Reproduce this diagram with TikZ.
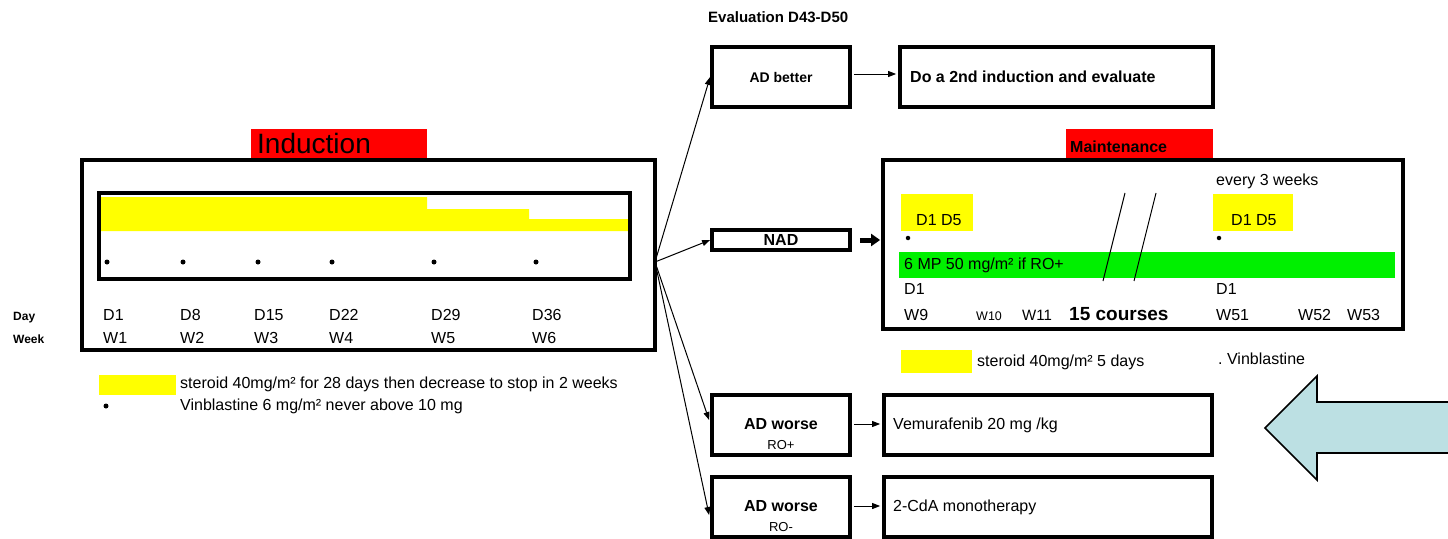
\documentclass[tikz,border=0pt]{standalone}
\usepackage{fontspec}
\setmainfont{Liberation Sans}
\usetikzlibrary{arrows.meta,calc}
\definecolor{hlyellow}{RGB}{255,255,0}
\definecolor{hlgreen}{RGB}{0,240,0}
\definecolor{hlred}{RGB}{255,0,0}
\definecolor{arrowblue}{RGB}{188,224,227}
\tikzset{
 f16/.style={inner sep=0pt, font=\fontsize{16}{19}\selectfont, text height=11.5pt, text depth=0pt},
 f16b/.style={inner sep=0pt, font=\fontsize{16}{19}\selectfont\bfseries, text height=11.5pt, text depth=0pt},
 f15b/.style={inner sep=0pt, font=\fontsize{15}{18}\selectfont\bfseries, text height=10.7pt, text depth=0pt},
 f14b/.style={inner sep=0pt, font=\fontsize{14}{17}\selectfont\bfseries, text height=10pt, text depth=0pt},
 f12/.style={inner sep=0pt, font=\fontsize{12.5}{15}\selectfont, text height=9pt, text depth=0pt},
 f13/.style={inner sep=0pt, font=\fontsize{13}{15}\selectfont, text height=9.3pt, text depth=0pt},
 f12b/.style={inner sep=0pt, font=\fontsize{12}{14}\selectfont\bfseries, text height=8.6pt, text depth=0pt},
 f19b/.style={inner sep=0pt, font=\fontsize{19}{22}\selectfont\bfseries, text height=13.6pt, text depth=0pt},
 f28/.style={inner sep=0pt, font=\fontsize{28}{32}\selectfont, text height=20pt, text depth=0pt},
 box/.style={draw=black, line width=3.8pt, inner sep=0pt, fill=white},
 conn/.style={-{Triangle[length=8pt,width=6pt]}, line width=1pt},
 bigconn/.style={-{Triangle[length=9pt,width=12pt]}, line width=5pt},
 vdot/.style={circle, fill=black, inner sep=0pt, minimum size=5pt},
}
\begin{document}
\begin{tikzpicture}[x=1pt,y=-1pt]
\useasboundingbox (0,0) rectangle (1448,538);

% ---------------- Induction ----------------
\fill[hlred] (251,129) rectangle (427,159);
\node[f28, anchor=west] (indtitle) at (257,143) {Induction};
\node[box, minimum width=573pt, minimum height=190pt] (ind) at (368.5,255) {};
\fill[hlyellow] (101,197) -- (427,197) -- (427,209) -- (529,209) -- (529,219) -- (628,219) -- (628,231) -- (101,231) -- cycle;
\node[draw=black, line width=3.5pt, inner sep=0pt, minimum width=531pt, minimum height=86pt] (indin) at (364.5,236) {};
\foreach \x/\n in {107/a,183/b,258/c,332/d,434/e,536/f}
  \node[vdot] (idot\n) at (\x,262) {};

\node[f12b, anchor=west] (daylbl) at (13,316) {Day};
\node[f12b, anchor=west] (weeklbl) at (13,339) {Week};
\foreach \x/\d/\w/\n in {103/D1/W1/a,180/D8/W2/b,254/D15/W3/c,329/D22/W4/d,431/D29/W5/e,532/D36/W6/f}{
  \node[f16, anchor=west] (iday\n) at (\x,315) {\d};
  \node[f16, anchor=west] (iweek\n) at (\x,338) {\w};
}

% legend left
\fill[hlyellow] (99,375) rectangle (176,395);
\node[f16, anchor=west] (leg1) at (180,383) {steroid 40mg/m² for 28 days then decrease to stop in 2 weeks};
\node[vdot] (legdot) at (106,406) {};
\node[f16, anchor=west] (leg2) at (180,405) {Vinblastine 6 mg/m² never above 10 mg};

% ---------------- Evaluation ----------------
\node[f15b, anchor=west] (evaltitle) at (708,17) {Evaluation D43-D50};
\node[box, f14b, minimum width=138pt, minimum height=60pt] (adb) at (781,77) {AD better};
\node[box, minimum width=313pt, minimum height=60pt] (do2) at (1056.5,77) {};
\node[f16b, anchor=west] (do2t) at (910,77) {Do a 2nd induction and evaluate};

\node[box, f16b, minimum width=138pt, minimum height=20pt] (nad) at (781,240) {NAD};

\node[box, minimum width=138pt, minimum height=60pt] (rop) at (781,425) {};
\node[f16b] (ropt1) at (781,424) {AD worse};
\node[f13] (ropt2) at (781,445) {RO+};
\node[box, minimum width=328pt, minimum height=60pt] (vem) at (1048,425) {};
\node[f16, anchor=west] (vemt) at (893,424) {Vemurafenib 20 mg /kg};

\node[box, minimum width=138pt, minimum height=60pt] (rom) at (781,507) {};
\node[f16b] (romt1) at (781,506) {AD worse};
\node[f13] (romt2) at (781,527) {RO-};
\node[box, minimum width=328pt, minimum height=60pt] (cda) at (1048,507) {};
\node[f16, anchor=west] (cdat) at (893,506) {2-CdA monotherapy};

% ---------------- Maintenance ----------------
\fill[hlred] (1066,129) rectangle (1213,159);
\node[f16b, anchor=west] (mainttitle) at (1070,147) {Maintenance};
\node[box, fill=none, minimum width=520pt, minimum height=169pt] (maint) at (1143,244.5) {};
\node[f16, anchor=west] (every) at (1216,180) {every 3 weeks};
\fill[hlyellow] (901,194) rectangle (973,231);
\fill[hlyellow] (1213,194) rectangle (1293,231);
\node[f16, anchor=west] (d15a) at (916,220) {D1 D5};
\node[f16, anchor=west] (d15b) at (1231,220) {D1 D5};
\node[vdot, minimum size=4.5pt] (mdota) at (908,238) {};
\node[vdot, minimum size=4.5pt] (mdotb) at (1219,238) {};
\fill[hlgreen] (899,252) rectangle (1395,278);
\node[f16, anchor=west] (mp) at (904,264) {6 MP 50 mg/m² if RO+};
\draw[line width=1pt] (1125,193) -- (1103,281);
\draw[line width=1pt] (1156,193) -- (1134,281);
\node[f16, anchor=west] (md1a) at (904,289) {D1};
\node[f16, anchor=west] (md1b) at (1216,289) {D1};
\node[f16, anchor=west] (w9) at (904,315) {W9};
\node[f12, anchor=west] (w10) at (976,316) {W10};
\node[f16, anchor=west, font=\fontsize{15}{18}\selectfont] (w11) at (1022,315) {W11};
\node[f19b, anchor=west] (courses) at (1069,314) {15 courses};
\node[f16, anchor=west] (w51) at (1216,315) {W51};
\node[f16, anchor=west] (w52) at (1298,315) {W52};
\node[f16, anchor=west] (w53) at (1347,315) {W53};

% legend right
\fill[hlyellow] (901,350) rectangle (972,373);
\node[f16, anchor=west] (leg3) at (977,361) {steroid 40mg/m² 5 days};
\node[f16, anchor=west] (leg4) at (1218,359) {.\;Vinblastine};

% ---------------- Connectors ----------------
\coordinate (br) at (655,262);
\draw[conn] (br) -- (adb.west);
\draw[conn] (br) -- (nad.west);
\draw[conn] (br) -- ($(rop.west)+(-1,-5)$);
\draw[conn] (br) -- ($(rom.west)+(-1,8)$);
\draw[conn] ($(adb.east)+(2,-3)$) -- ($(do2.west)+(-2,-3)$);
\draw[bigconn] ($(nad.east)+(8,0)$) -- ($(maint.west)+(-1,-4.5)$);
\draw[conn] ($(rop.east)+(2,-1)$) -- ($(vem.west)+(-2,-1)$);
\draw[conn] ($(rom.east)+(2,-1)$) -- ($(cda.west)+(-2,-1)$);

% big block arrow
\draw[fill=arrowblue, line width=1.6pt, line join=miter] (1455,402) -- (1317,402) -- (1317,376) -- (1265,428) -- (1317,480) -- (1317,453) -- (1455,453);
\end{tikzpicture}
\end{document}
